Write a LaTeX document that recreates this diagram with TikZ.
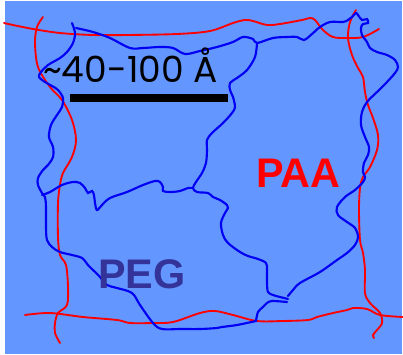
\documentclass[tikz,border=0pt]{standalone}
\usepackage{xcolor}
\usepackage{fontspec}
\usepackage{tikz}
\newfontfamily\gothic{Poppins}
\newfontfamily\arialbold{Liberation Sans}[BoldFont={Liberation Sans Bold}]
\definecolor{gelblue}{RGB}{99,150,255}
\definecolor{pegtext}{RGB}{51,51,153}
\tikzset{
  paa/.style={draw=red, line width=1.4pt, line cap=round, smooth, tension=0.55},
  peg/.style={draw={rgb,255:red,0;green,0;blue,245}, line width=1.6pt, line cap=round, smooth, tension=0.55}
}

\begin{document}
\begin{tikzpicture}[x=0.75pt,y=0.75pt,yscale=-1,xscale=1]
\useasboundingbox (0,0) rectangle (403,354);
% background
\fill [white] (0,0) rectangle (403,354);
\fill [gelblue] (5,1) rectangle (402,354);

%Curve Lines (PAA frame)
\draw [paa] plot coordinates {(4,23) (13,25) (33,29) (60,33) (93,35) (127,35) (177,34) (210,31) (233,23) (245,20) (253,21) (267,25) (280,24) (302,20) (310,18) (315,20) (323,30) (333,37) (347,38) (363,37) (379,29)};
\draw [paa] plot coordinates {(43,17) (37,27) (35,43) (38,67) (50,87) (62,100) (72,120) (76,140) (72,157) (63,173) (60,185) (58,203) (58,237) (60,255) (66,265) (68,287) (67,305) (58,313) (55,323) (55,333) (60,343)};
\draw [paa] plot coordinates {(25,315) (50,313) (83,317) (117,320) (130,323) (153,323) (173,322) (200,313) (215,311) (233,315) (257,321) (283,321) (308,320) (317,317) (333,313) (347,310) (353,308) (367,309) (380,315) (403,317)};
\draw [paa] plot coordinates {(356,10) (350,22) (348,38) (352,55) (358,68) (363,77) (365,92) (368,105) (373,118) (378,135) (377,150) (370,167) (363,177) (360,188) (359,210) (360,240) (363,253) (365,270) (365,293) (370,303) (380,313) (382,323) (377,330) (373,335) (374,338)};

%Curve Lines (PEG chains)
\draw [peg] plot coordinates {(72,23) (75,33) (73,43) (67,52) (60,58) (48,65) (41,72) (39,77) (45,82) (52,86) (58,90) (63,98) (62,107) (57,115) (51,125) (49,137) (53,147) (53,157) (48,165) (43,170) (38,178) (38,185) (42,193) (45,197) (46,207) (46,227) (47,240) (52,247) (60,252) (72,255) (82,258) (88,265) (93,270) (100,277) (107,285) (117,288) (132,293) (140,305) (153,323) (162,329) (180,329) (200,329) (217,328) (222,327) (237,325) (256,321)};
\draw [peg] plot coordinates {(256,321) (258,312) (263,307) (267,303) (272,301) (287,302)};
\draw [peg] plot coordinates {(76,28) (93,32) (110,38) (130,48) (143,48) (160,47) (173,48) (185,54) (200,51) (217,47) (233,42) (243,37) (253,39) (257,43) (273,38) (287,37) (297,37) (304,40) (312,34) (320,27) (330,22) (343,22) (348,20) (352,17) (356,13) (358,15) (362,20) (367,19) (368,23) (363,24) (361,28) (362,35) (367,42) (370,48) (377,52) (387,55) (395,60) (398,67) (395,73) (387,82) (377,92) (367,102) (362,112) (361,125) (365,137) (369,147) (368,155) (364,163) (363,172) (365,177) (363,182) (355,190) (345,197) (337,207) (338,215) (347,222) (355,228) (358,237) (355,245) (347,253) (337,260) (320,272) (300,283) (293,290) (288,296)};
\draw [peg] plot coordinates {(257,43) (255,57) (247,70) (237,78) (230,83) (230,90) (233,97) (235,107) (232,113) (223,123) (212,133) (207,140) (207,150) (206,163) (202,173) (196,182) (193,188) (197,192) (208,193) (213,197) (220,200) (227,205) (228,208) (225,213) (221,223) (223,235) (228,243) (240,252) (248,256) (258,259) (266,263) (267,270) (267,283) (268,292) (273,295) (280,297) (288,299)};
\draw [peg] plot coordinates {(42,195) (50,192) (62,185) (73,182) (80,183) (85,188) (88,193) (92,191) (94,195) (95,203) (97,210) (102,205) (110,198) (127,192) (143,185) (155,181) (160,182) (163,187) (163,191) (170,192) (180,191) (188,188) (193,188)};

% Scale bar
\draw [line width=6pt] (70,98) -- (228,98);

% Text Node
\node (size) [anchor=base west, inner sep=0pt] at (43,82) {\gothic\fontsize{27}{27}\selectfont \textasciitilde 40-100 Å};
% Text Node
\node (paa) [anchor=base west, inner sep=0pt, text=red] at (256,187) {\arialbold\bfseries\fontsize{31}{31}\selectfont PAA};
% Text Node
\node (peg) [anchor=base west, inner sep=0pt, text=pegtext] at (98,288) {\arialbold\bfseries\fontsize{31}{31}\selectfont PEG};

\end{tikzpicture}
\end{document}
